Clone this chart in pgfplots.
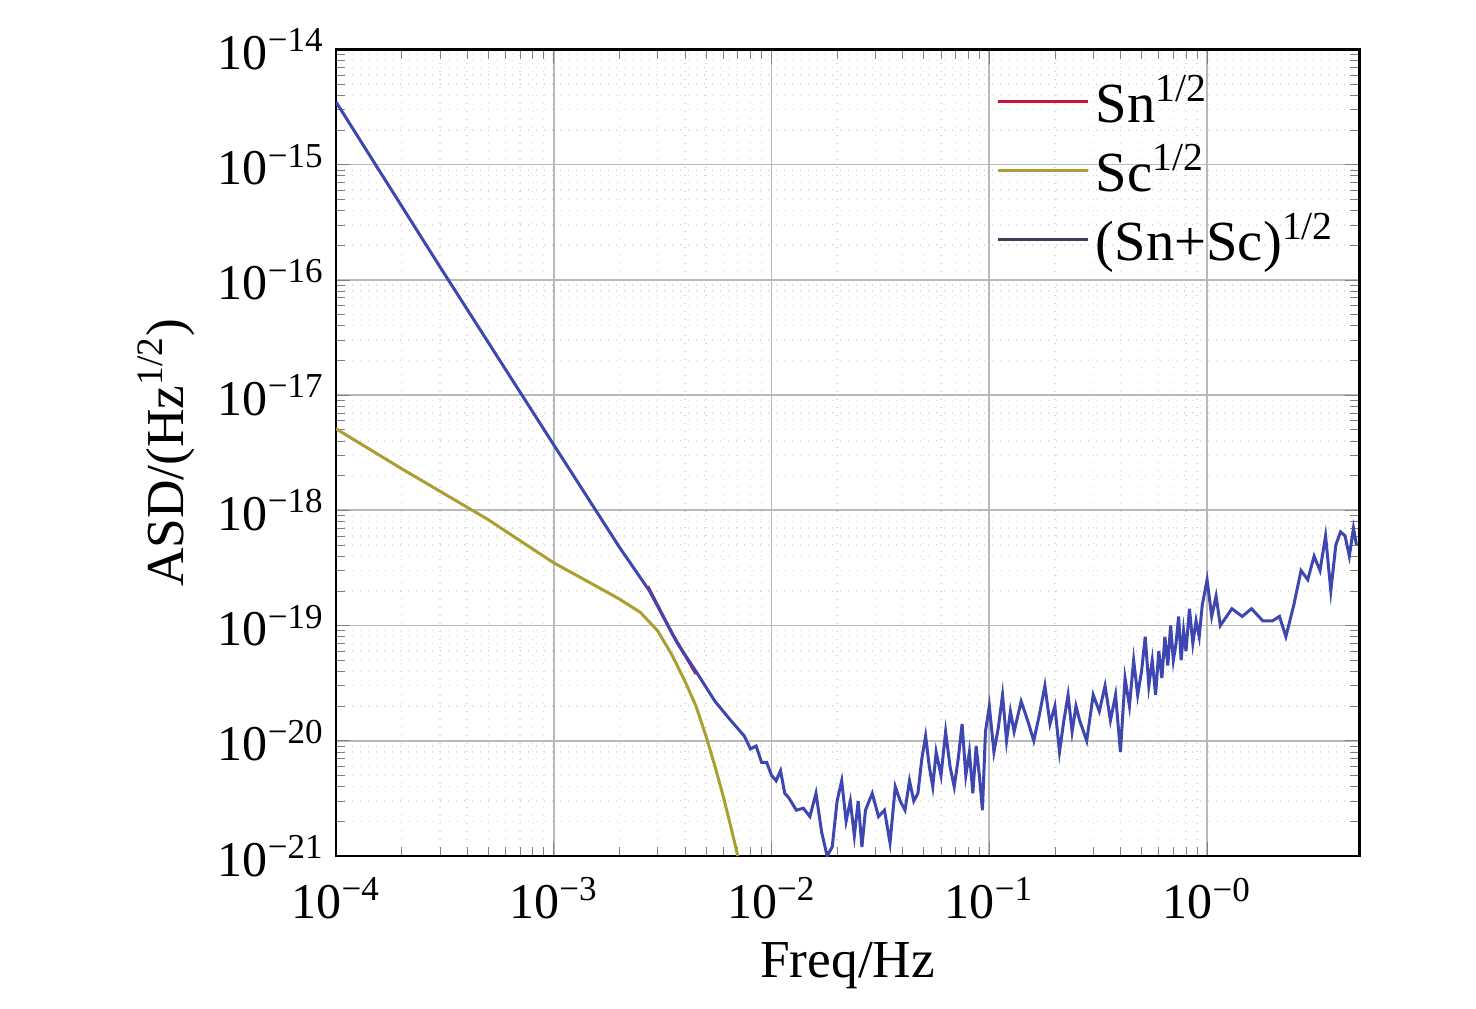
\documentclass[border=0pt]{standalone}
\usepackage{fontspec}
\setmainfont{Liberation Serif}
\usepackage{pgfplots}
\pgfplotsset{compat=1.18}
\definecolor{snred}{RGB}{200,20,60}
\definecolor{scol}{RGB}{170,160,50}
\definecolor{sumc}{RGB}{60,62,90}
\definecolor{blu}{RGB}{62,70,175}
\begin{document}
\begin{tikzpicture}
\begin{axis}[at={(0,0)},anchor=south west,scale only axis,
 width=307pt,height=242pt,
 xmode=log,ymode=log,xmin=1e-4,xmax=5,ymin=1e-21,ymax=1e-14,
 xtick={1e-4,1e-3,1e-2,1e-1,1},
 xticklabels={10\textsuperscript{−4},10\textsuperscript{−3},10\textsuperscript{−2},10\textsuperscript{−1},10\textsuperscript{−0}},
 ytick={1e-21,1e-20,1e-19,1e-18,1e-17,1e-16,1e-15,1e-14},
 yticklabels={10\textsuperscript{−21},10\textsuperscript{−20},10\textsuperscript{−19},10\textsuperscript{−18},10\textsuperscript{−17},10\textsuperscript{−16},10\textsuperscript{−15},10\textsuperscript{−14}},
 tick label style={font=\fontsize{15}{18}\selectfont},
 xticklabel style={yshift=-3pt},
 label style={font=\fontsize{16}{19}\selectfont},
 xlabel={Freq/Hz}, ylabel={ASD/(Hz\textsuperscript{1/2})},
 grid=both, major grid style={gray!55,line width=0.5pt},
 minor grid style={gray!30,dotted},
 tick align=inside, ticks=both, axis line style={line width=0.8pt},
 legend image code/.code={\draw[#1] (0pt,0pt) -- (27pt,0pt);},
 legend style={draw=none,fill=none,at={(0.635,0.985)},anchor=north west,font=\fontsize{17}{20}\selectfont,row sep=1pt},
 legend cell align=left,
]
\addlegendimage{snred,line width=0.8pt}\addlegendentry{Sn\textsuperscript{1/2}}
\addlegendimage{scol,line width=0.8pt}\addlegendentry{Sc\textsuperscript{1/2}}
\addlegendimage{sumc,line width=0.8pt}\addlegendentry{(Sn+Sc)\textsuperscript{1/2}}
\addplot[snred,line width=0.9pt,forget plot] coordinates {(2.7e-3,2.2e-19)(3.5e-3,8.5e-20)(4.5e-3,3.8e-20)};
\addplot[scol,line width=0.9pt,forget plot] coordinates {
(1e-4,5.1e-18)(2e-4,2.3e-18)(5e-4,8.3e-19)(1e-3,3.5e-19)(1.5e-3,2.3e-19)(2e-3,1.7e-19)(2.5e-3,1.3e-19)(3e-3,9e-20)(3.5e-3,5.5e-20)(4e-3,3.3e-20)(4.5e-3,2e-20)(5e-3,1.1e-20)(5.5e-3,6e-21)(6e-3,3.3e-21)(6.5e-3,1.8e-21)(7e-3,1e-21)};
\addplot[blu,line width=0.9pt,forget plot] coordinates {
(1e-4,3.5e-15)(3e-4,1.3e-16)(1e-3,3.7e-18)(2e-3,4.8e-19)(2.75e-3,2e-19)(3.7e-3,7e-20)(4.5e-3,4e-20)(5.5e-3,2.2e-20)(6.5e-3,1.5e-20)(7.5e-3,1.1e-20)(8e-3,8.5e-21)(8.5e-3,9e-21)(9e-3,6.5e-21)(9.5e-3,6.5e-21)
(0.0100,5e-21)(0.0105,4.5e-21)(0.011,5.5e-21)(0.0115,3.5e-21)(0.012,3.2e-21)(0.013,2.5e-21)(0.014,2.6e-21)(0.015,2.2e-21)(0.016,3.5e-21)(0.017,1.6e-21)(0.018,1e-21)(0.019,1.2e-21)(0.020,3e-21)(0.021,4.5e-21)(0.022,2e-21)(0.023,3e-21)(0.024,1.5e-21)(0.025,3e-21)(0.026,1.2e-21)(0.027,2.5e-21)(0.029,3.5e-21)(0.031,2.2e-21)(0.033,2.5e-21)(0.035,1.3e-21)(0.037,4e-21)(0.039,3e-21)(0.041,2.5e-21)(0.043,4.5e-21)(0.045,3e-21)(0.047,3.5e-21)(0.049,7e-21)(0.051,1.1e-20)(0.053,6e-21)(0.055,4e-21)(0.057,8e-21)(0.060,5e-21)(0.063,1.2e-20)(0.066,6e-21)(0.069,4e-21)(0.072,7e-21)(0.075,1.4e-20)(0.078,5e-21)(0.081,8e-21)(0.084,3.5e-21)(0.087,9e-21)(0.090,5e-21)(0.093,2.5e-21)(0.096,1.2e-20)(0.10,2e-20)(0.105,8e-21)(0.11,1.3e-20)(0.115,2.5e-20)(0.12,1e-20)(0.125,1.8e-20)(0.13,1.2e-20)(0.14,2.2e-20)(0.15,1.5e-20)(0.16,1e-20)(0.17,1.7e-20)(0.18,3e-20)(0.19,1.4e-20)(0.20,2e-20)(0.21,8e-21)(0.22,1.5e-20)(0.23,2.5e-20)(0.24,1.2e-20)(0.25,2e-20)(0.26,1.5e-20)(0.28,1e-20)(0.30,2.5e-20)(0.32,1.8e-20)(0.34,3e-20)(0.36,1.5e-20)(0.38,2.5e-20)(0.40,8e-21)(0.42,3.5e-20)(0.44,2e-20)(0.46,5e-20)(0.48,2.5e-20)(0.50,4e-20)(0.52,8e-20)(0.54,3e-20)(0.56,5e-20)(0.58,2.5e-20)(0.60,6e-20)(0.62,3.5e-20)(0.64,8e-20)(0.66,4.5e-20)(0.68,1e-19)(0.70,5e-20)(0.72,7e-20)(0.74,1.2e-19)(0.76,5e-20)(0.78,9e-20)(0.80,6e-20)(0.83,1.4e-19)(0.86,7e-20)(0.89,1.1e-19)(0.92,8e-20)(0.95,1.5e-19)(1.0,2.5e-19)(1.05,1.2e-19)(1.1,1.8e-19)(1.15,1e-19)(1.3,1.4e-19)(1.45,1.2e-19)(1.6,1.4e-19)(1.8,1.1e-19)(2.0,1.1e-19)(2.15,1.2e-19)(2.3,8e-20)(2.5,1.5e-19)(2.7,3e-19)(2.9,2.5e-19)(3.1,4e-19)(3.3,3e-19)(3.5,6e-19)(3.7,2e-19)(3.9,5e-19)(4.1,6.5e-19)(4.3,6e-19)(4.5,4e-19)(4.7,7e-19)(4.85,5e-19)};
\end{axis}
\path[use as bounding box] (-100.8pt,-45.9pt) rectangle (342pt,256.8pt);
\end{tikzpicture}
\end{document}
